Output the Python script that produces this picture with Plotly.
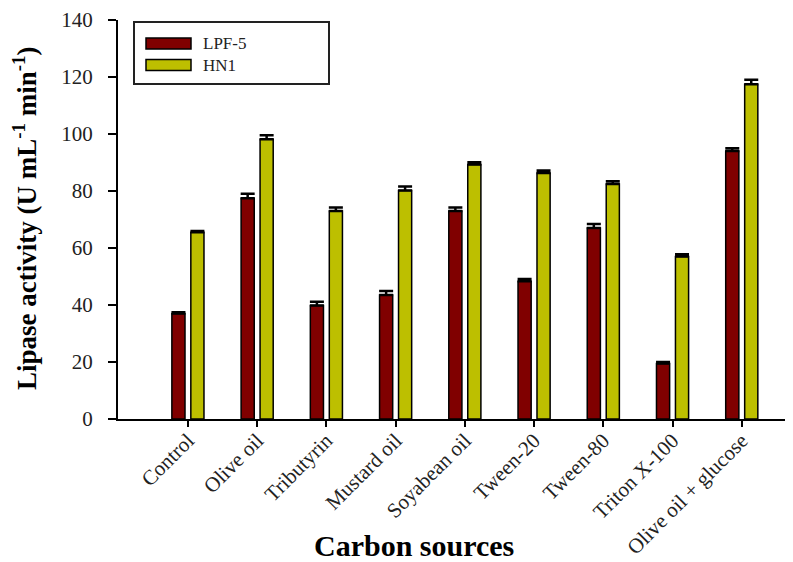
import plotly.graph_objects as go

categories = ["Control", "Olive oil", "Tributyrin", "Mustard oil", "Soyabean oil",
              "Tween-20", "Tween-80", "Triton X-100", "Olive oil + glucose"]
series_names = ["LPF-5", "HN1"]
lpf5 = [37.0, 77.5, 39.8, 43.5, 73.0, 48.3, 67.0, 19.5, 94.0]
lpf5_err = [0.5, 1.5, 1.3, 1.4, 1.2, 0.8, 1.4, 0.5, 1.0]
hn1 = [65.5, 98.2, 73.0, 80.2, 89.3, 86.3, 82.5, 57.0, 117.5]
hn1_err = [0.5, 1.4, 1.2, 1.4, 0.8, 0.9, 0.9, 0.8, 1.5]
y_ticks = [0, 20, 40, 60, 80, 100, 120, 140]

colors = ["#800000", "#BDBF00"]
FONT = "Liberation Serif"

# the page body adds an 8px margin; size the figure so it fills the window
OFF = 8
W, H = 793 - OFF, 562 - OFF
L, R, T = 118 - OFF, 0, 20 - OFF
B = H - (419 - OFF)
PW, PH = W - L - R, H - T - B

def px(x):
    return (x - OFF - L) / PW

def py(y):
    return (H - B - (y - OFF)) / PH

fig = go.Figure()
for name, vals, errs, col in [(series_names[0], lpf5, lpf5_err, colors[0]),
                              (series_names[1], hn1, hn1_err, colors[1])]:
    fig.add_trace(go.Bar(
        x=categories, y=vals, name=name,
        marker=dict(color=col, line=dict(color="black", width=1.5)),
        error_y=dict(type="data", symmetric=False, array=errs,
                     arrayminus=[0] * len(errs), color="black",
                     thickness=2.5, width=7),
        showlegend=False,
    ))

fig.update_layout(
    width=W, height=H,
    margin=dict(l=L, r=R, t=T, b=B, autoexpand=False),
    paper_bgcolor="white", plot_bgcolor="white",
    barmode="group", bargap=0.452, bargroupgap=0.307,
    font=dict(family=FONT, color="black"),
)
fig.update_xaxes(
    type="category", range=[-1.01, 8.74], automargin=False,
    showline=True, linecolor="black", linewidth=2,
    ticks="outside", ticklen=6, tickwidth=1.5, tickcolor="black",
    tickangle=-45, tickfont=dict(size=21, family=FONT, color="#222"),
    ticklabelstandoff=-7, showgrid=False, zeroline=False,
)
fig.update_yaxes(
    range=[0, 140], tickvals=y_ticks, automargin=False,
    showline=True, linecolor="black", linewidth=2,
    ticks="outside", ticklen=8, tickwidth=1.5, tickcolor="black",
    tickfont=dict(size=21, family=FONT, color="#222"),
    ticklabelstandoff=11, showgrid=False, zeroline=False,
)

# axis titles
fig.add_annotation(
    xref="paper", yref="paper", x=px(25), y=py(218),
    text="<b>Lipase activity (U mL<sup>-1</sup> min<sup>-1</sup>)</b>",
    textangle=-90, showarrow=False, xanchor="center", yanchor="middle",
    font=dict(size=27, family=FONT, color="black"),
)
fig.add_annotation(
    xref="paper", yref="paper", x=px(414), y=py(545),
    text="<b>Carbon sources</b>", showarrow=False,
    xanchor="center", yanchor="middle",
    font=dict(size=30, family=FONT, color="black"),
)

# legend (custom box)
fig.add_shape(type="rect", xref="paper", yref="paper",
              x0=px(134), x1=px(329), y0=py(84), y1=py(22),
              line=dict(color="#222", width=2), fillcolor="white", layer="above")
for i, (name, col) in enumerate(zip(series_names, colors)):
    yc = 43.5 + i * 21.5
    fig.add_shape(type="rect", xref="paper", yref="paper",
                  x0=px(146), x1=px(191), y0=py(yc + 5.5), y1=py(yc - 5.5),
                  line=dict(color="black", width=1.5), fillcolor=col, layer="above")
    fig.add_annotation(xref="paper", yref="paper", x=px(201), y=py(yc),
                       text=name, showarrow=False, xanchor="left", yanchor="middle",
                       font=dict(size=17, family=FONT, color="#222"))

fig.write_html("out.html")
